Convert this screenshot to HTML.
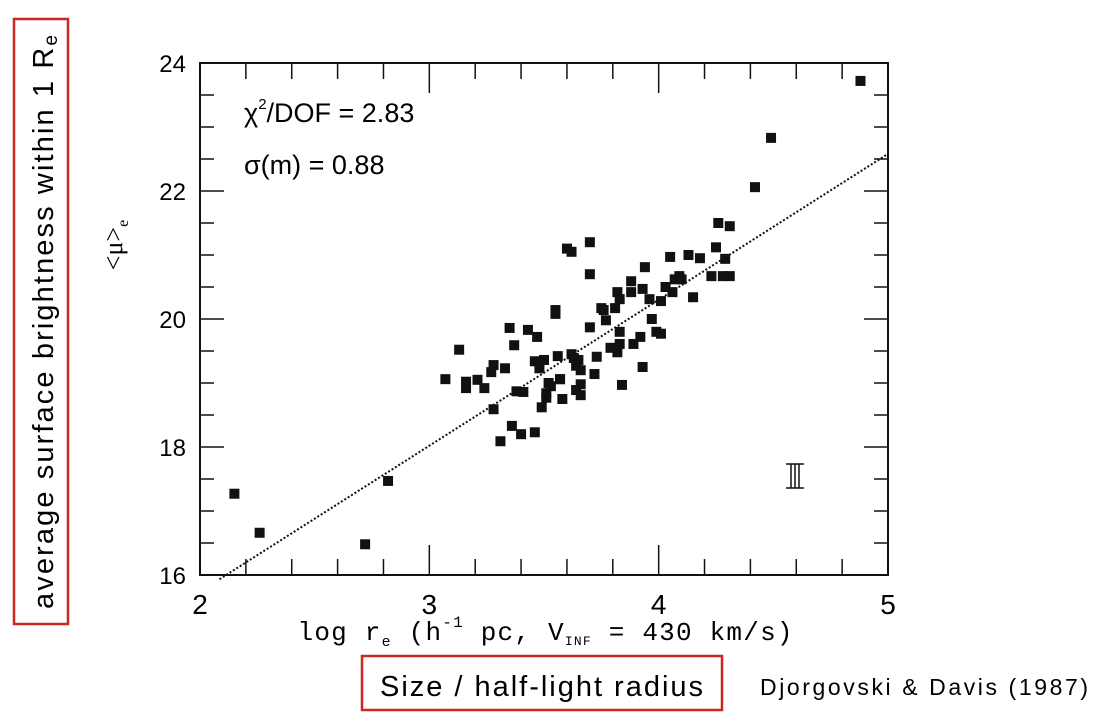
<!DOCTYPE html>
<html><head><meta charset="utf-8"><style>
body{margin:0;background:#fff;width:1101px;height:726px;overflow:hidden;font-family:"Liberation Sans",sans-serif}
svg{position:absolute;left:0;top:0}
</style></head><body>
<svg id="c" width="1101" height="726" xmlns="http://www.w3.org/2000/svg">
<rect x="14" y="19" width="54" height="605" fill="none" stroke="#c8281e" stroke-width="2.5"/>
<text transform="translate(53,609) rotate(-90)" font-size="29" textLength="574" font-family="Liberation Sans, sans-serif">average surface brightness within 1 R<tspan font-size="19" dy="4">e</tspan></text>
<rect x="362" y="656" width="360" height="54" fill="none" stroke="#c8281e" stroke-width="2.5"/>
<text x="380" y="696" font-size="29" textLength="323">Size / half-light radius</text>
<text x="760" y="695" font-size="23" textLength="328">Djorgovski &amp; Davis (1987)</text>
<text x="244" y="122" font-size="27" font-family="Liberation Sans, sans-serif">χ<tspan font-size="15" dy="-13">2</tspan><tspan dy="13">/DOF = 2.83</tspan></text>
<text x="244" y="174" font-size="27" font-family="Liberation Sans, sans-serif">σ(m) = 0.88</text>
<text transform="translate(122,245) rotate(-90)" text-anchor="middle" font-size="26" font-family="Liberation Serif, serif">&lt;μ&gt;<tspan font-size="16" dy="6">e</tspan></text>
<text x="545" y="640" text-anchor="middle" font-size="26" font-family="Liberation Mono, monospace" textLength="495">log r<tspan font-size="15" dy="6">e</tspan><tspan dy="-6"> (h</tspan><tspan font-size="16" dy="-13">-1</tspan><tspan dy="13"> pc, V</tspan><tspan font-size="13" dy="5">INF</tspan><tspan dy="-5"> = 430 km/s)</tspan></text>
<g id="g"></g>
</svg>
<script>
const xTicks=[2,3,4,5];
const yTicks=[16,18,20,22,24];
const xs=[2.15,2.26,2.72,2.82,3.07,3.13,3.16,3.16,3.21,3.24,3.28,3.27,3.28,3.31,3.33,3.35,3.36,3.37,3.38,3.4,3.41,3.43,3.46,3.46,3.47,3.48,3.48,3.49,3.5,3.51,3.51,3.52,3.53,3.55,3.55,3.56,3.57,3.58,3.6,3.62,3.62,3.63,3.64,3.64,3.65,3.66,3.66,3.7,3.7,3.7,3.72,3.73,3.75,3.76,3.77,3.79,3.81,3.82,3.83,3.83,3.84,3.88,3.88,3.89,3.92,3.93,3.93,3.94,3.96,3.97,3.99,4.01,4.01,4.03,4.06,4.07,4.09,4.1,4.13,4.15,4.18,4.23,4.25,4.26,4.28,4.31,4.29,4.31,4.42,4.49,4.88,3.82,3.83,4.05,3.66,3.57];
const ys=[17.27,16.66,16.48,17.47,19.06,19.52,18.92,19.02,19.05,18.92,19.28,19.17,18.59,18.09,19.23,19.86,18.33,19.59,18.87,18.2,18.86,19.83,19.34,18.23,19.72,19.23,19.33,18.62,19.36,18.84,18.77,19.0,18.95,20.14,20.08,19.42,19.06,18.75,21.1,21.05,19.45,19.39,19.27,18.89,19.36,18.81,19.2,21.2,20.7,19.87,19.14,19.41,20.17,20.14,19.98,19.55,20.17,19.48,19.8,19.61,18.97,20.59,20.42,19.61,19.72,19.25,20.47,20.81,20.31,20.0,19.8,20.28,19.77,20.5,20.42,20.62,20.67,20.62,21.0,20.34,20.95,20.67,21.12,21.5,20.67,21.45,20.94,20.67,22.06,22.83,23.72,20.42,20.31,20.97,18.98,19.06];
const fitSlope=2.28, fitAt5=22.58;
const L=200,R=888,T=63,B=575;
const X=v=>L+(v-2)/3*(R-L), Y=v=>B-(v-16)/8*(B-T);
const g=document.getElementById('g'),NS='http://www.w3.org/2000/svg';
function mk(t,a){const e=document.createElementNS(NS,t);for(const k in a)e.setAttribute(k,a[k]);g.appendChild(e);return e;}
let e=mk('rect',{x:L,y:T,width:R-L,height:B-T,fill:'none',stroke:'#111','stroke-width':2});


for(let v=2;v<=5.001;v+=0.2){const maj=Math.abs(v-Math.round(v))<1e-6,len=maj?30:16,x=X(v);
 mk('line',{x1:x,y1:B,x2:x,y2:B-len,stroke:'#111','stroke-width':1.5});
 mk('line',{x1:x,y1:T,x2:x,y2:T+len,stroke:'#111','stroke-width':1.5});}
for(let v=16;v<=24.001;v+=0.5){const maj=Math.abs(v/2-Math.round(v/2))<1e-6,len=maj?24:14,y=Y(v);
 mk('line',{x1:L,y1:y,x2:L+len,y2:y,stroke:'#111','stroke-width':1.5});
 mk('line',{x1:R,y1:y,x2:R-len,y2:y,stroke:'#111','stroke-width':1.5});}
xTicks.forEach(v=>{const t=mk('text',{x:X(v),y:614,'text-anchor':'middle','font-size':28,'font-family':'Liberation Sans, sans-serif'});t.textContent=v;
 
 });
yTicks.forEach(v=>{const t=mk('text',{x:186,y:Y(v)+9,'text-anchor':'end','font-size':24});t.textContent=v;
 
 });
const x0=2.085,x1=5;
e=mk('line',{x1:X(x0),y1:Y(fitAt5+fitSlope*(x0-5)),x2:X(x1),y2:Y(fitAt5),stroke:'#111','stroke-width':2,'stroke-dasharray':'2,2'});


xs.forEach((v,i)=>{const p=mk('rect',{x:X(v)-5,y:Y(ys[i])-5,width:10,height:10,fill:'#111'});
 
 });
const eb=mk('path',{d:'M786 464H804M786 488H804M791 464V488M795 464V488M799 464V488',stroke:'#111','stroke-width':1.5,fill:'none'});


</script>
</body></html>
